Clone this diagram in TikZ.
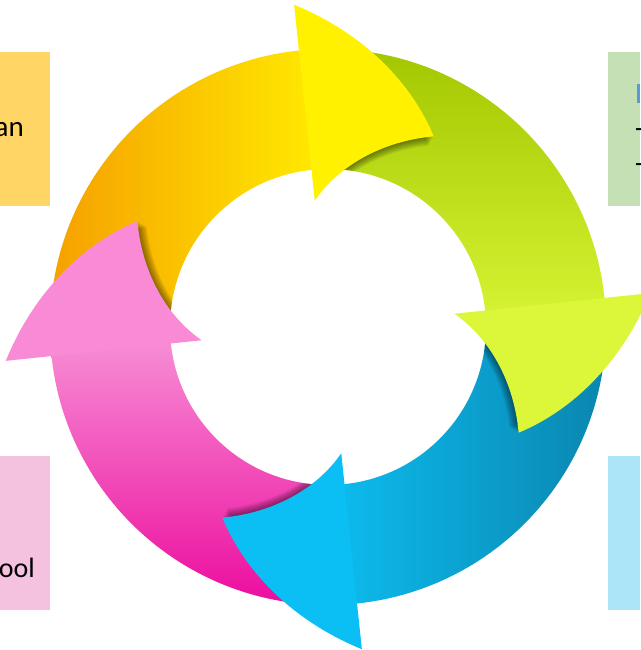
\documentclass[tikz,border=0pt]{standalone}
\usepackage{fontspec}
\setmainfont{Carlito}
\definecolor{boxorange}{RGB}{255,213,102}
\definecolor{boxgreen}{RGB}{197,224,180}
\definecolor{boxpink}{RGB}{244,193,223}
\definecolor{boxblue}{RGB}{172,228,248}
\definecolor{bulletblue}{RGB}{91,155,213}
\definecolor{yelA}{RGB}{246,160,0}
\definecolor{yelB}{RGB}{255,232,0}
\definecolor{yelH}{RGB}{255,241,0}
\definecolor{grnA}{RGB}{162,199,0}
\definecolor{grnB}{RGB}{214,242,50}
\definecolor{grnH}{RGB}{220,246,58}
\definecolor{bluA}{RGB}{10,134,176}
\definecolor{bluB}{RGB}{12,186,236}
\definecolor{bluH}{RGB}{11,190,243}
\definecolor{pnkA}{RGB}{236,12,158}
\definecolor{pnkB}{RGB}{247,141,212}
\definecolor{pnkH}{RGB}{249,138,213}
% ring body ending at back angle #1
\newcommand\ArrBody[1]{({#1+80}:278) arc[start angle={#1+80}, end angle={#1-1}, radius=278] -- ({#1-1}:158) arc[start angle={#1-1}, end angle={#1+80}, radius=158] -- cycle}
% arrow head with back angle #1, radial inset #2
\newcommand\ArrHead[2]{plot[variable=\t,domain=0:1,samples=30] ({#1-35*\t}:{324-106*\t-#2}) -- plot[variable=\t,domain=0:1,samples=30] ({#1-35+35*\t}:{218-91*\t-#2}) -- cycle}
\tikzset{
  boxtext/.style={font=\fontsize{29}{34}\selectfont, inner sep=0pt, text=black},
  shadowfill/.style={fill=black, opacity=0.07}
}
\begin{document}
\begin{tikzpicture}[x=1pt,y=1pt]
\useasboundingbox (0,0) rectangle (640,650);
\fill[white] (0,0) rectangle (640,650);
% corner boxes
\fill[boxorange] (0,444) rectangle (50,598);
\fill[boxgreen] (608,444) rectangle (640,598);
\fill[boxpink] (0,40) rectangle (50,194);
\fill[boxblue] (608,40) rectangle (640,194);
\fill[bulletblue] (637,547) rectangle (640,566);
\node[boxtext, anchor=base east] (tan) at (24,513) {an};
\node[boxtext, anchor=base east, font=\fontsize{28}{34}\selectfont] (tool) at (35,72) {ool};
\node[boxtext, anchor=base west, font=\fontsize{28}{34}\selectfont] (d1) at (635,512) {-};
\node[boxtext, anchor=base west, font=\fontsize{28}{34}\selectfont] (d2) at (635,477) {-};
\begin{scope}[shift={(328,323)}]
  % bodies
  \shade[left color=yelA, right color=yelB] \ArrBody{96};
  \shade[top color=grnA, bottom color=grnB] \ArrBody{6};
  \shade[left color=bluB, right color=bluA] \ArrBody{-84};
  \shade[top color=pnkB, bottom color=pnkA] \ArrBody{-174};
  % yellow head
  \begin{scope}
    \clip \ArrBody{6};
    \foreach \d in {1.5,3,...,10.5} {\fill[shadowfill] \ArrHead{96}{\d};}
  \end{scope}
  \fill[yelH] \ArrHead{96}{0};
  % green head
  \begin{scope}
    \clip \ArrBody{-84};
    \foreach \d in {1.5,3,...,10.5} {\fill[shadowfill] \ArrHead{6}{\d};}
  \end{scope}
  \fill[grnH] \ArrHead{6}{0};
  % blue head
  \begin{scope}
    \clip \ArrBody{-174};
    \foreach \d in {1.5,3,...,10.5} {\fill[shadowfill] \ArrHead{-84}{\d};}
  \end{scope}
  \fill[bluH] \ArrHead{-84}{0};
  % pink head
  \begin{scope}
    \clip \ArrBody{96};
    \foreach \d in {1.5,3,...,10.5} {\fill[shadowfill] \ArrHead{-174}{\d};}
  \end{scope}
  \fill[pnkH] \ArrHead{-174}{0};
\end{scope}
\end{tikzpicture}
\end{document}
